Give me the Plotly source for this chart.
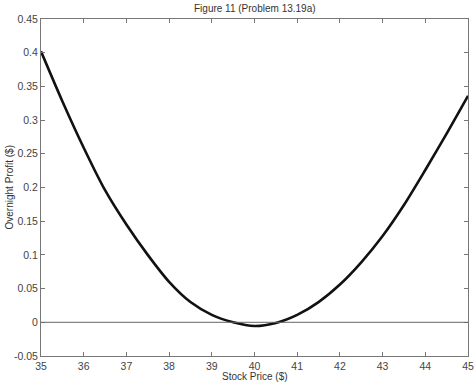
import plotly.graph_objects as go

stock_price = [35.0, 35.5, 36.0, 36.5, 37.0, 37.5, 38.0, 38.5, 39.0, 39.5, 40.0,
               40.5, 41.0, 41.5, 42.0, 42.5, 43.0, 43.5, 44.0, 44.5, 45.0]
overnight_profit = [0.402, 0.328, 0.259, 0.196, 0.145, 0.100, 0.060, 0.030, 0.011, 0.000, -0.0055,
                    -0.001, 0.011, 0.030, 0.056, 0.089, 0.128, 0.174, 0.226, 0.280, 0.336]
x_ticks = [35, 36, 37, 38, 39, 40, 41, 42, 43, 44, 45]
y_ticks = [-0.05, 0, 0.05, 0.1, 0.15, 0.2, 0.25, 0.3, 0.35, 0.4, 0.45]
y_tick_text = ["-0.05", "0", "0.05", "0.1", "0.15", "0.2", "0.25", "0.3", "0.35", "0.4", "0.45"]

FONT = "Liberation Sans, Arial, Helvetica"

fig = go.Figure()
fig.add_trace(go.Scatter(x=stock_price, y=overnight_profit, mode="lines",
                         line=dict(color="#111111", width=2.6, shape="spline", smoothing=0.8),
                         showlegend=False, hoverinfo="skip"))
fig.add_hline(y=0, line=dict(color="#666666", width=1))

axis_common = dict(showgrid=False, zeroline=False, showline=True, linecolor="#777777", linewidth=1,
                   mirror="ticks", ticks="inside", ticklen=4, tickcolor="#777777", automargin=False,
                   tickfont=dict(family=FONT, size=10.5, color="#444444"))

fig.update_layout(
    width=476, height=384,
    margin=dict(l=41, r=8, t=19, b=28),
    paper_bgcolor="white", plot_bgcolor="white",
    xaxis=dict(range=[35, 45], tickvals=x_ticks, ticklabelstandoff=0, **axis_common),
    yaxis=dict(range=[-0.05, 0.45], tickvals=y_ticks, ticktext=y_tick_text, **axis_common),
    annotations=[
        dict(text="Figure 11 (Problem 13.19a)", xref="paper", yref="paper", x=0.5, y=1,
             xanchor="center", yanchor="middle", yshift=11, showarrow=False,
             font=dict(family=FONT, size=10, color="#333333")),
        dict(text="Stock Price ($)", xref="paper", yref="paper", x=0.5, y=0,
             xanchor="center", yanchor="middle", yshift=-20, showarrow=False,
             font=dict(family=FONT, size=10, color="#333333")),
        dict(text="Overnight Profit ($)", xref="paper", yref="paper", x=0, y=0.5,
             xanchor="center", yanchor="middle", xshift=-32, textangle=-90, showarrow=False,
             font=dict(family=FONT, size=10, color="#333333")),
    ],
)

fig.write_html("out.html", config={"displayModeBar": False, "staticPlot": True},
               post_script="document.body.style.margin='0';document.body.style.padding='0';"
                           "document.body.style.overflow='hidden';")
